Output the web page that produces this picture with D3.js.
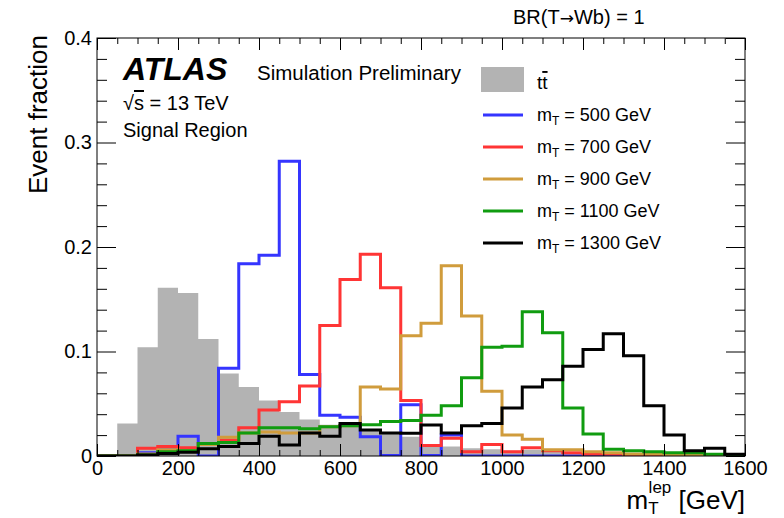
<!DOCTYPE html>
<html>
<head>
<meta charset="utf-8">
<script src="https://cdn.jsdelivr.net/npm/d3@7"></script>
<style>
  html, body { margin: 0; padding: 0; background: #fff; }
  svg text { font-family: "Liberation Sans", Arial, sans-serif; fill: #000; }
</style>
</head>
<body>
<svg id="chart" width="784" height="518"></svg>
<script>
// Bin edges: 32 bins of 50 GeV from 0 to 1600 GeV
const binWidth = 50;
const binLow = d3.range(0, 1600, binWidth);

// Event fractions per bin
const ttbar = [0, 0.031, 0.104, 0.161, 0.156, 0.112, 0.079, 0.066, 0.053, 0.042,
               0.035, 0.030, 0.029, 0.025, 0.021, 0.0185, 0.0105, 0.009, 0.0074, 0.0064,
               0.005, 0.006, 0.0045, 0.0035, 0.003, 0.002, 0.002, 0.0015, 0.001, 0.001,
               0.0005, 0.0005];
const mT500 = [0, 0, 0.003, 0.006, 0.019, 0, 0.084, 0.184, 0.192, 0.282,
               0.078, 0.039, 0.037, 0.0185, 0.0005, 0.049, 0.0005, 0.020, 0, 0,
               0, 0, 0, 0, 0, 0, 0, 0, 0, 0, 0, 0];
const mT700 = [0, 0, 0.0074, 0.009, 0.008, 0.012, 0.015, 0.027, 0.044, 0.052,
               0.067, 0.125, 0.169, 0.193, 0.161, 0.053, 0.010, 0.017, 0.004, 0.011,
               0.004, 0.008, 0.005, 0.003, 0.002, 0.002, 0.001, 0.001, 0.0005, 0.0005,
               0, 0];
const mT900 = [0, 0, 0.002, 0.006, 0.005, 0.011, 0.018, 0.022, 0.023, 0.022,
               0.022, 0.028, 0.029, 0.066, 0.064, 0.115, 0.127, 0.182, 0.134, 0.062,
               0.020, 0.016, 0.006, 0.006, 0.004, 0.003, 0.002, 0.002, 0.001, 0.001,
               0.0005, 0];
const mT1100 = [0, 0, 0.001, 0.004, 0.005, 0.012, 0.013, 0.022, 0.027, 0.027,
                0.026, 0.028, 0.029, 0.030, 0.033, 0.034, 0.039, 0.048, 0.075, 0.104,
                0.105, 0.138, 0.118, 0.046, 0.021, 0.0065, 0.005, 0.004, 0.003, 0.003,
                0.0016, 0];
const mT1300 = [0, 0, 0.001, 0.0025, 0.0035, 0.007, 0.009, 0.012, 0.019, 0.0105,
                0.022, 0.019, 0.031, 0.025, 0.022, 0.0217, 0.0297, 0.022, 0.029, 0.031,
                0.046, 0.066, 0.073, 0.086, 0.102, 0.117, 0.096, 0.048, 0.020, 0.005,
                0.0074, 0.0016];

const signalNames = ["500", "700", "900", "1100", "1300"];
const signalColors = ["#3535ff", "#ff3535", "#d09c3c", "#109c10", "#000000"];
const signalValues = [mT500, mT700, mT900, mT1100, mT1300];

const xTicks = d3.range(0, 1601, 200);
const yTicks = [0, 0.1, 0.2, 0.3, 0.4];

const svg = d3.select("#chart");
const pLeft = 97, pRight = 745, pTop = 38, pBottom = 456;
const x = d3.scaleLinear().domain([0, 1600]).range([pLeft, pRight]);
const y = d3.scaleLinear().domain([0, 0.4]).range([pBottom, pTop]);

// Step outline of a histogram
function stepPath(vals, close) {
  const p = d3.path();
  p.moveTo(x(0), y(0));
  vals.forEach((v, i) => {
    p.lineTo(x(binLow[i]), y(v));
    p.lineTo(x(binLow[i] + binWidth), y(v));
  });
  p.lineTo(x(1600), y(0));
  if (close) p.closePath();
  return p.toString();
}

// ttbar filled histogram
svg.append("path")
  .attr("d", stepPath(ttbar, true))
  .attr("fill", "#b3b3b3")
  .attr("stroke", "none");

// Signal histograms
svg.append("clipPath").attr("id", "plotclip")
  .append("rect").attr("x", pLeft).attr("y", pTop)
  .attr("width", pRight - pLeft).attr("height", pBottom - pTop);

svg.append("g").attr("clip-path", "url(#plotclip)")
  .selectAll("path").data(signalValues).join("path")
  .attr("d", d => stepPath(d, false))
  .attr("fill", "none")
  .attr("stroke", (d, i) => signalColors[i])
  .attr("stroke-width", 3)
  .attr("stroke-linejoin", "miter");

// Axes with inward ticks on all four sides
const tickFont = "20px";
function styleAxis(g) {
  g.select(".domain").remove();
  g.selectAll("line").attr("stroke", "#000").attr("stroke-width", 1);
  g.selectAll("text").style("font-size", tickFont).attr("fill", "#000");
}
const xMinor = d3.range(0, 1601, 50).filter(v => v % 200 !== 0);
const yMinor = d3.range(0, 0.401, 0.02).filter(v => Math.abs(v * 10 - Math.round(v * 10)) > 1e-6);

svg.append("g").attr("transform", `translate(0,${pBottom})`)
  .call(d3.axisBottom(x).tickValues(xTicks).tickSize(-12).tickPadding(5).tickFormat(d3.format("d")))
  .call(styleAxis);
svg.append("g").attr("transform", `translate(0,${pBottom})`)
  .call(d3.axisBottom(x).tickValues(xMinor).tickSize(-6).tickFormat(""))
  .call(styleAxis);
svg.append("g").attr("transform", `translate(0,${pTop})`)
  .call(d3.axisTop(x).tickValues(xTicks).tickSize(-12).tickFormat(""))
  .call(styleAxis);
svg.append("g").attr("transform", `translate(0,${pTop})`)
  .call(d3.axisTop(x).tickValues(xMinor).tickSize(-6).tickFormat(""))
  .call(styleAxis);

svg.append("g").attr("transform", `translate(${pLeft},0)`)
  .call(d3.axisLeft(y).tickValues(yTicks).tickSize(-19).tickPadding(5).tickFormat(d => d === 0 ? "0" : d3.format(".1f")(d)))
  .call(styleAxis);
svg.append("g").attr("transform", `translate(${pLeft},0)`)
  .call(d3.axisLeft(y).tickValues(yMinor).tickSize(-10).tickFormat(""))
  .call(styleAxis);
svg.append("g").attr("transform", `translate(${pRight},0)`)
  .call(d3.axisRight(y).tickValues(yTicks).tickSize(-19).tickFormat(""))
  .call(styleAxis);
svg.append("g").attr("transform", `translate(${pRight},0)`)
  .call(d3.axisRight(y).tickValues(yMinor).tickSize(-10).tickFormat(""))
  .call(styleAxis);

// Frame
svg.append("rect").attr("x", pLeft).attr("y", pTop)
  .attr("width", pRight - pLeft).attr("height", pBottom - pTop)
  .attr("fill", "none").attr("stroke", "#000").attr("stroke-width", 1);

// Axis titles
svg.append("text")
  .attr("transform", `translate(47,${pTop - 3}) rotate(-90)`)
  .attr("text-anchor", "end")
  .style("font-size", "26px")
  .text("Event fraction");

const xt = svg.append("text")
  .attr("x", pRight).attr("y", 509)
  .attr("text-anchor", "end")
  .style("font-size", "26px");
xt.append("tspan").text("m");
xt.append("tspan").attr("dy", 5).style("font-size", "17px").text("T");
xt.append("tspan").attr("dy", -21).attr("dx", -10).style("font-size", "17px").text("lep");
xt.append("tspan").attr("dy", 16).text(" [GeV]");

// Title
const title = svg.append("text").attr("x", 513).attr("y", 24).style("font-size", "20px");
title.append("tspan").text("BR(T");
title.append("tspan").style("font-family", "'DejaVu Sans', sans-serif").style("font-size", "17px").text("\u2192");
title.append("tspan").text("Wb) = 1");

// Labels
svg.append("text").attr("x", 123).attr("y", 80)
  .style("font-size", "32px").style("font-weight", "bold").style("font-style", "italic")
  .text("ATLAS");
svg.append("text").attr("x", 257).attr("y", 80)
  .style("font-size", "20.5px").text("Simulation Preliminary");
const rs = svg.append("text").attr("x", 123).attr("y", 110).style("font-size", "20px");
rs.append("tspan").text("\u221A");
rs.append("tspan").style("text-decoration", "overline").text("s");
rs.append("tspan").text(" = 13 TeV");
svg.append("text").attr("x", 123).attr("y", 137)
  .style("font-size", "20px").text("Signal Region");

// Legend
const lgX = 481;
svg.append("rect").attr("x", lgX).attr("y", 67).attr("width", 43).attr("height", 25)
  .attr("fill", "#b3b3b3");
const tt = svg.append("text").attr("x", 537).attr("y", 89).style("font-size", "19px");
tt.append("tspan").text("t");
tt.append("tspan").style("text-decoration", "overline").text("t");

const legendRows = signalNames.map((n, i) => ({ name: n, color: signalColors[i], yy: 115 + i * 32 }));
const lg = svg.append("g").selectAll("g").data(legendRows).join("g");
lg.append("line")
  .attr("x1", lgX + 2).attr("x2", lgX + 42)
  .attr("y1", d => d.yy).attr("y2", d => d.yy)
  .attr("stroke", d => d.color).attr("stroke-width", 3);
const lt = lg.append("text").attr("x", 537).attr("y", d => d.yy + 6).style("font-size", "18px");
lt.append("tspan").text("m");
lt.append("tspan").attr("dy", 4).style("font-size", "12px").text("T");
lt.append("tspan").attr("dy", -4).text(d => ` = ${d.name} GeV`);
</script>
</body>
</html>
